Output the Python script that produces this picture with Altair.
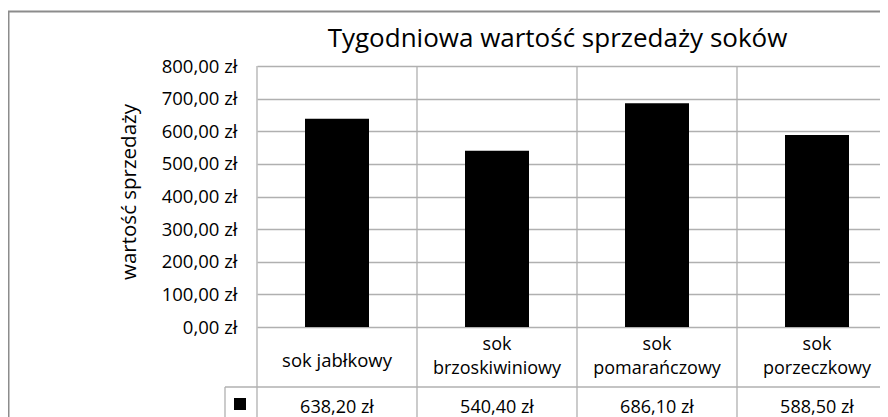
import altair as alt
import pandas as pd

categories = ["sok jabłkowy", "sok brzoskiwiniowy", "sok pomarańczowy", "sok porzeczkowy"]
table_labels = ["sok jabłkowy", "sok\nbrzoskiwiniowy", "sok\npomarańczowy", "sok\nporzeczkowy"]
values = [638.20, 540.40, 686.10, 588.50]
y_ticks = [0, 100, 200, 300, 400, 500, 600, 700, 800]
title_text = "Tygodniowa wartość sprzedaży soków"
y_title = "wartość sprzedaży"

FONT = "Open Sans"
GRID = "#b0b0b0"
W, H = 623, 261
STEP = 160.0

df = pd.DataFrame({
    "cat": categories,
    "label": table_labels,
    "value": values,
    "idx": list(range(len(categories))),
})

xscale = alt.Scale(domain=[0, W / STEP], nice=False, zero=False)
fmt = "replace(format(datum.value, '.2f'), '.', ',') + ' zł'"

base = alt.Chart(df).transform_calculate(
    x0="datum.idx + 0.3", x1="datum.idx + 0.7", xc="datum.idx + 0.5", fmt_val=fmt,
    multi="indexof(datum.label, '\\n') >= 0",
)

bars = base.mark_bar(color="black").encode(
    x=alt.X("x0:Q", scale=xscale, axis=None),
    x2="x1:Q",
    y=alt.Y(
        "value:Q",
        scale=alt.Scale(domain=[0, 800], nice=False),
        axis=alt.Axis(
            values=y_ticks,
            title=None,
            ticks=False,
            domain=False,
            grid=True,
            gridColor=GRID,
            gridWidth=1.3,
            labelExpr=fmt,
            labelFont=FONT,
            labelFontSize=18.5,
            labelColor="black",
            labelPadding=20,
        ),
    ),
    y2=alt.datum(0),
)

vlines = base.mark_rule(color=GRID, strokeWidth=1.3).encode(
    x=alt.X("idx:Q", scale=xscale, axis=None),
    y=alt.value(0),
    y2=alt.value(360),
)

cat_single = base.transform_filter("!datum.multi").mark_text(
    font=FONT, fontSize=18.5, baseline="alphabetic", color="black"
).encode(
    x=alt.X("xc:Q", scale=xscale, axis=None),
    y=alt.value(301),
    text="label:N",
)

cat_multi = base.transform_filter("datum.multi").mark_text(
    font=FONT, fontSize=18, lineBreak="\n", lineHeight=24, baseline="alphabetic", color="black"
).encode(
    x=alt.X("xc:Q", scale=xscale, axis=None),
    y=alt.value(284),
    text="label:N",
)

val_text = base.mark_text(
    font=FONT, fontSize=18, baseline="alphabetic", color="black"
).encode(
    x=alt.X("xc:Q", scale=xscale, axis=None),
    y=alt.value(346.5),
    text="fmt_val:N",
)

tdf = pd.DataFrame({"t": [title_text], "a": [y_title]})
single = alt.Chart(tdf)

row_line = single.mark_rule(color=GRID, strokeWidth=1.3).encode(
    x=alt.value(-32), x2=alt.value(W), y=alt.value(321)
)
key_left = single.mark_rule(color=GRID, strokeWidth=1.3).encode(
    x=alt.value(-32), y=alt.value(321), y2=alt.value(360)
)
key_square = single.mark_rect(color="black").encode(
    x=alt.value(-23), x2=alt.value(-11), y=alt.value(332), y2=alt.value(344)
)

title_mark = single.mark_text(
    font=FONT, fontSize=26, baseline="alphabetic", align="center", color="black"
).encode(x=alt.value(300.5), y=alt.value(-19), text="t:N")

ytitle_mark = single.mark_text(
    font=FONT, fontSize=20.5, baseline="middle", align="center", angle=270, color="black"
).encode(x=alt.value(-127), y=alt.value(126), text="a:N")

border_top = single.mark_rule(color="#8c8c8c", strokeWidth=2).encode(
    x=alt.value(-249), x2=alt.value(W), y=alt.value(-54.5)
)
border_left = single.mark_rule(color="#8c8c8c", strokeWidth=2).encode(
    x=alt.value(-248.5), y=alt.value(-55), y2=alt.value(360)
)

chart = alt.layer(
    vlines, row_line, key_left, bars, cat_single, cat_multi, val_text, key_square,
    title_mark, ytitle_mark, border_top, border_left,
).properties(
    width=W,
    height=H,
    autosize=alt.AutoSizeParams(type="none"),
    padding={"left": 249, "top": 58, "right": 0, "bottom": 90},
    background="white",
).configure_view(stroke=None)

chart.save("out.html", embed_options={"renderer": "svg", "actions": False})
